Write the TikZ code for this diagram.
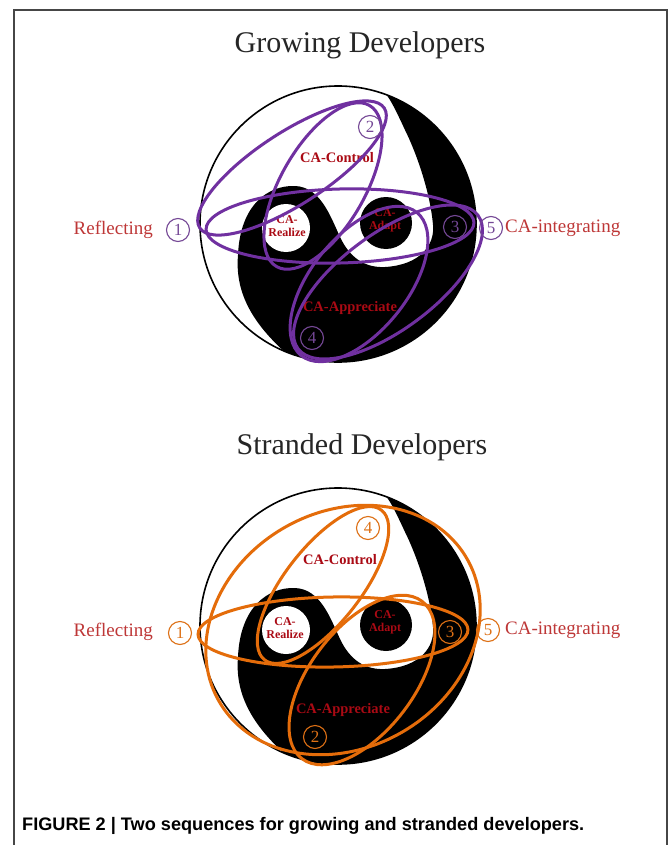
\documentclass[tikz,border=0pt]{standalone}
\usepackage{fontspec}
\setmainfont{Liberation Serif}
\setsansfont{Liberation Sans}
\usepackage{graphicx}
\definecolor{pcol}{RGB}{112,48,160}
\definecolor{ocol}{RGB}{228,108,10}
\definecolor{lred}{RGB}{190,55,55}
\definecolor{dred}{RGB}{170,10,20}
\definecolor{framec}{RGB}{70,70,70}
\tikzset{
  yinyang/.pic={
    \fill[white] (0,0) circle (138);
    \fill[black] (48.5,129.2) arc[start angle=69.4, end angle=-113.3, radius=138]
      .. controls (-88,-96) and (-103,-66) .. (-100,-31)
      .. controls (-98,19) and (-70,39) .. (-43,38)
      .. controls (-18,37) and (-8,9) .. (2,-13)
      .. controls (12,-34) and (27,-44) .. (47,-43)
      .. controls (82,-41) and (97,-21) .. (95,-1)
      .. controls (92,34) and (77,74) .. (67,94)
      .. controls (60,109) and (54,122) .. (48.5,129.2) -- cycle;
    \draw[line width=1.6] (0,0) circle (138);
    \fill[white] (-52,-4) circle (24);
    \fill[black] (48,1) circle (26);
  },
  pl/.style={draw=pcol, line width=3},
  ol/.style={draw=ocol, line width=3},
  pnum/.style={circle, draw=pcol!70!gray, line width=1.1, inner sep=0pt, minimum size=23, text=pcol!70!gray, font=\fontsize{17}{17}\selectfont},
  onum/.style={circle, draw=ocol!80!brown, line width=1.1, inner sep=0pt, minimum size=23, text=ocol!80!brown, font=\fontsize{17}{17}\selectfont},
  side/.style={text=lred, font=\fontsize{19}{19}\selectfont, inner sep=0pt},
  calab/.style={text=dred, font=\bfseries\fontsize{14.5}{14.5}\selectfont, inner sep=0pt},
  dotlab/.style={text=dred, font=\bfseries\fontsize{12}{13}\selectfont, align=center, inner sep=0pt},
  ttl/.style={text=black!85, font=\fontsize{30}{30}\selectfont, inner sep=0pt}
}
\begin{document}
\begin{tikzpicture}[x=1pt,y=1pt]
\useasboundingbox (0,0) rectangle (670,-845);
\fill[white] (0,0) rectangle (670,-845);
\draw[framec, line width=1.5] (14,-845) -- (14,-10) -- (667,-10) -- (667,-845);

% ---------- Growing developers ----------
\node[ttl] (t1) at (360,-45) {Growing Developers};
\pic at (338,-224) {yinyang};
\node[calab] (gctrl) at (337,-158) {CA-Control};
\node[calab] (gappr) at (350,-308) {CA-Appreciate};
\node[dotlab] (greal) at (287,-226) {CA-\\Realize};
\node[dotlab] (gadap) at (385,-220) {CA-\\Adapt};
\draw[pl, rotate around={33:(292,-168)}] (292,-168) ellipse[x radius=110, y radius=36];
\draw[pl, rotate around={1.5:(340,-226)}] (340,-226) ellipse[x radius=134, y radius=37];
\draw[pl, rotate around={60:(323,-186)}] (323,-186) ellipse[x radius=93, y radius=42];
\draw[pl, rotate around={51:(359,-284)}] (359,-284) ellipse[x radius=92, y radius=48];
\draw[pl, rotate around={36.5:(388,-282)}] (388,-282) ellipse[x radius=112, y radius=48];
\node[side, anchor=east] (grefl) at (153,-230) {Reflecting};
\node[side, anchor=west] (ginte) at (505,-228) {CA-integrating};
\node[pnum] (g1) at (178,-230) {1};
\node[pnum] (g2) at (370,-127) {2};
\node[pnum] (g3) at (455,-227) {3};
\node[pnum] (g4) at (312,-338) {4};
\node[pnum] (g5) at (491,-228) {5};

% ---------- Stranded developers ----------
\node[ttl] (t2) at (362,-447) {Stranded Developers};
\pic at (338,-626) {yinyang};
\node[calab] (sctrl) at (340,-560) {CA-Control};
\node[calab] (sappr) at (343,-710) {CA-Appreciate};
\node[dotlab] (sreal) at (285,-628) {CA-\\Realize};
\node[dotlab] (sadap) at (385,-622) {CA-\\Adapt};
\draw[ol, rotate around={1:(333,-632)}] (333,-632) ellipse[x radius=135, y radius=35];
\draw[ol, rotate around={52:(323,-585)}] (323,-585) ellipse[x radius=95, y radius=38];
\draw[ol, rotate around={52.6:(362,-680)}] (362,-680) ellipse[x radius=99, y radius=52];
\draw[ol, rotate around={30:(343,-630)}] (343,-630) ellipse[x radius=143, y radius=118];
\node[side, anchor=east] (srefl) at (153,-632) {Reflecting};
\node[side, anchor=west] (sinte) at (505,-630) {CA-integrating};
\node[onum] (s1) at (180,-633) {1};
\node[onum] (s2) at (315,-737) {2};
\node[onum] (s3) at (450,-632) {3};
\node[onum] (s4) at (368,-528) {4};
\node[onum] (s5) at (488,-630) {5};

% ---------- caption ----------
\node[anchor=west, inner sep=0pt] (cap) at (22,-826) {\resizebox{562pt}{!}{\sffamily\bfseries FIGURE 2 | Two sequences for growing and stranded developers.}};
\end{tikzpicture}
\end{document}
